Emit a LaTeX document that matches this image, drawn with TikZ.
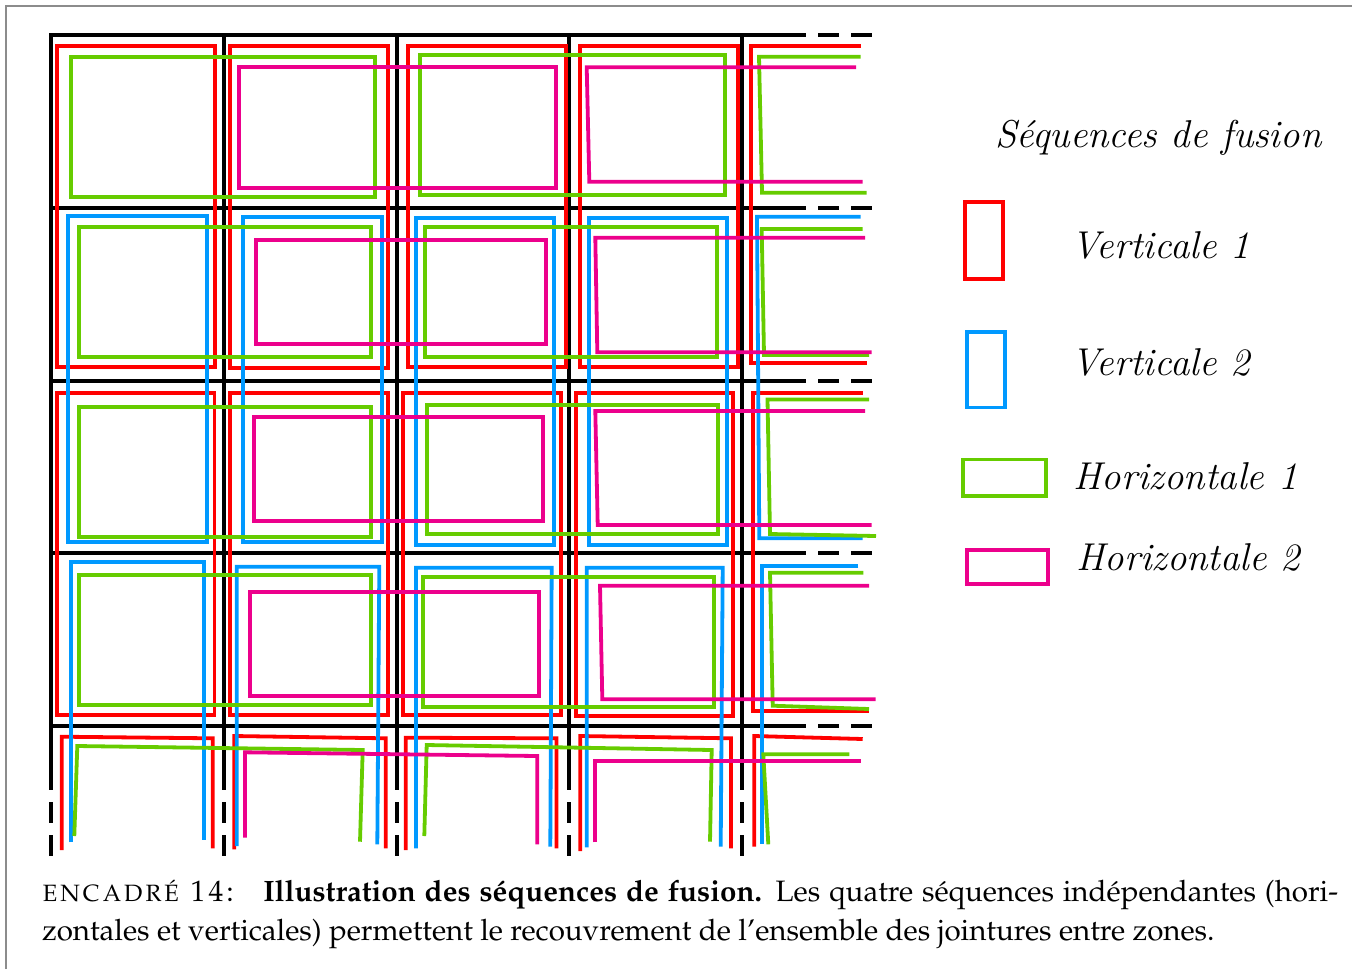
\documentclass[tikz,border=0pt]{standalone}
\usepackage{tikz}
\usetikzlibrary{positioning}

\definecolor{rougeseq}{RGB}{255,0,0}
\definecolor{bleuseq}{RGB}{0,153,255}
\definecolor{vertseq}{RGB}{102,204,0}
\definecolor{roseseq}{RGB}{236,0,140}
\definecolor{cadre}{RGB}{140,140,140}

\begin{document}
\begin{tikzpicture}[x=0.5pt, y=-0.5pt]

% --- Styles ---
\tikzset{
    grille/.style={line width=2pt, black},
    tirets/.style={line width=2pt, black, dash pattern=on 10.25pt off 6.25pt},
    seqVun/.style={line width=1.9pt, draw=rougeseq},
    seqVdeux/.style={line width=1.9pt, draw=bleuseq},
    seqHun/.style={line width=1.9pt, draw=vertseq},
    seqHdeux/.style={line width=1.9pt, draw=roseseq},
    boite/.style={rectangle, line width=1.9pt, inner sep=0pt},
    etiquette/.style={font=\fontsize{19.4}{22}\selectfont\itshape, inner sep=0pt, anchor=base west},
    legende/.style={font=\fontencoding{T1}\fontfamily{ppl}\fontsize{14.75}{19.2}\selectfont, inner sep=0pt,
        anchor=base west, text width=648pt, align=justify},
}

\useasboundingbox (0,0) rectangle (1352,969);
\draw[cadre, line width=0.7pt] (6,969) -- (6,6) -- (1352,6);

% --- Grille des zones ---
\draw[grille] (51,769) -- (51,35) -- (785,35);
\draw[grille] (51,207.75) -- (785,207.75) (51,380.5) -- (785,380.5) (51,553.25) -- (785,553.25) (51,726) -- (785,726);
\draw[grille] (223.75,35) -- (223.75,769) (396.5,35) -- (396.5,769) (569.25,35) -- (569.25,769) (742,35) -- (742,769);
\draw[tirets] (785,35) -- (872,35) (785,207.75) -- (872,207.75) (785,380.5) -- (872,380.5) (785,553.25) -- (872,553.25) (785,726) -- (872,726);
\draw[tirets] (51,769) -- (51,856) (223.75,769) -- (223.75,856) (396.5,769) -- (396.5,856) (569.25,769) -- (569.25,856) (742,769) -- (742,856);

% --- Verticale 1 ---
\draw[seqVun] (57.3,46) rectangle (215,367.3);
\draw[seqVun] (230,46) rectangle (387.7,367.7);
\draw[seqVun] (407.7,46) rectangle (565.7,367.3);
\draw[seqVun] (580,46) rectangle (737.7,367.3);
\draw[seqVun] (860.7,46) -- (751,46) -- (751,363.3) -- (866.7,363.3);
\draw[seqVun] (57.3,393.3) rectangle (214.5,715);
\draw[seqVun] (230,393.3) rectangle (387.7,715);
\draw[seqVun] (403.3,393.3) rectangle (561,715);
\draw[seqVun] (576,393.3) rectangle (733.3,715.7);
\draw[seqVun] (862.7,393.3) -- (753.3,393.3) -- (753.3,710.7) -- (869,710.7);
\draw[seqVun] (61.7,850) -- (61.7,736.7) -- (212.7,738.3) -- (212.7,848.3);
\draw[seqVun] (234.3,849.3) -- (234.3,736) -- (385.7,738.3) -- (385.7,848.3);
\draw[seqVun] (405.7,850) -- (405.7,737.7) -- (556.5,738.3) -- (556.5,848.3);
\draw[seqVun] (580.3,851) -- (580.3,736) -- (731,738.3) -- (731,848.3);
\draw[seqVun] (862.7,739) -- (754.3,736) -- (754.3,846.7);

% --- Verticale 2 ---
\draw[seqVdeux] (68.3,216) rectangle (206.7,541.7);
\draw[seqVdeux] (243.3,216.7) rectangle (381.7,541.7);
\draw[seqVdeux] (416,218.3) rectangle (554,545);
\draw[seqVdeux] (589,218.3) rectangle (726.7,545);
\draw[seqVdeux] (860.7,216.7) -- (757,216.7) -- (759.3,538.3) -- (862.7,538.3);
\draw[seqVdeux] (70.7,842.3) -- (70.7,562.3) -- (204,562.3) -- (204,840);
\draw[seqVdeux] (236.7,846) -- (236.7,566.7) -- (379.3,566.7) -- (377.3,844.3);
\draw[seqVdeux] (416,848.3) -- (416,567.7) -- (551.7,567.7) -- (550.3,846.7);
\draw[seqVdeux] (586.7,847.3) -- (586.7,567.7) -- (722.7,567.7) -- (720.7,846.5);
\draw[seqVdeux] (858.3,566) -- (761.7,566) -- (761.7,844.3);

% --- Horizontale 1 ---
\draw[seqHun] (70.7,56.7) rectangle (375,196.7);
\draw[seqHun] (420,55) rectangle (725,195);
\draw[seqHun] (860.7,56.7) -- (759,56.7) -- (762,192.7) -- (866.7,192.7);
\draw[seqHun] (79,227.3) rectangle (371,356.7);
\draw[seqHun] (425,227.3) rectangle (716.7,356.7);
\draw[seqHun] (862.7,229) -- (761.7,229) -- (764,355) -- (869,355);
\draw[seqHun] (79,406.7) rectangle (371,536.7);
\draw[seqHun] (426.7,405) rectangle (718.3,534.3);
\draw[seqHun] (869,399.5) -- (767.5,399.5) -- (770,534) -- (876,536);
\draw[seqHun] (79,575) rectangle (371,705);
\draw[seqHun] (423.3,577.3) rectangle (714.3,706.7);
\draw[seqHun] (863.3,572.7) -- (770,572.7) -- (772.7,705.7) -- (869,709);
\draw[seqHun] (74.3,836) -- (77.3,746) -- (362.7,750) -- (360,841.7);
\draw[seqHun] (424.3,836) -- (426.7,745) -- (711.7,750) -- (710,841.7);
\draw[seqHun] (849.3,754.3) -- (763.3,754.3) -- (768.3,844.3);

% --- Horizontale 2 ---
\draw[seqHdeux] (239,67.3) rectangle (556,188.3);
\draw[seqHdeux] (856,67.3) -- (586.7,67.3) -- (589.3,181.7) -- (862.7,181.7);
\draw[seqHdeux] (256,240) rectangle (545.7,343.7);
\draw[seqHdeux] (865,237.7) -- (595.3,237.7) -- (597.3,352.3) -- (871.7,352.3);
\draw[seqHdeux] (254,416.7) rectangle (542.7,521);
\draw[seqHdeux] (865,411) -- (595.3,411) -- (597.7,525) -- (871.7,525);
\draw[seqHdeux] (250,592.3) rectangle (539.3,695.7);
\draw[seqHdeux] (869,585.7) -- (600,585.7) -- (602.3,699.3) -- (875.7,699.3);
\draw[seqHdeux] (245,837.7) -- (245,752.3) -- (537.3,756) -- (537.3,844.3);
\draw[seqHdeux] (595,842.3) -- (595,761) -- (860.7,761);

% --- Legende ---
\node[etiquette] (titre) at (995,147) {Séquences de fusion};
\node[boite, draw=rougeseq, minimum width=19.3pt, minimum height=38.6pt] (bvun) at (984,240.5) {};
\node[boite, draw=bleuseq, minimum width=18.85pt, minimum height=37.75pt] (bvdeux) at (986.15,369.8) {};
\node[boite, draw=vertseq, minimum width=41.2pt, minimum height=18.45pt] (bhun) at (1004.5,477.9) {};
\node[boite, draw=roseseq, minimum width=40.2pt, minimum height=17.2pt] (bhdeux) at (1007.5,566.9) {};
\node[etiquette] (lvun) at (1071,258.4) {Verticale 1};
\node[etiquette] (lvdeux) at (1071,375.5) {Verticale 2};
\node[etiquette] (lhun) at (1073.3,489.1) {Horizontale 1};
\node[etiquette] (lhdeux) at (1076,570.7) {Horizontale 2};

% --- Caption ---
\node[legende] (caption) at (41.7,901.7) {\hyphenpenalty=10000
    \textsc{e\kern.8pt n\kern.8pt c\kern.8pt a\kern.8pt d\kern.8pt r\kern.8pt é\kern.8pt\ 1\kern.8pt 4\kern.8pt :}\hspace{14.5pt}\textbf{Illustration des séquences de fusion.} Les quatre séquences indépendantes (hori-\linebreak
    zontales et verticales) permettent le recouvrement de l'ensemble des jointures entre zones.};

\end{tikzpicture}
\end{document}
